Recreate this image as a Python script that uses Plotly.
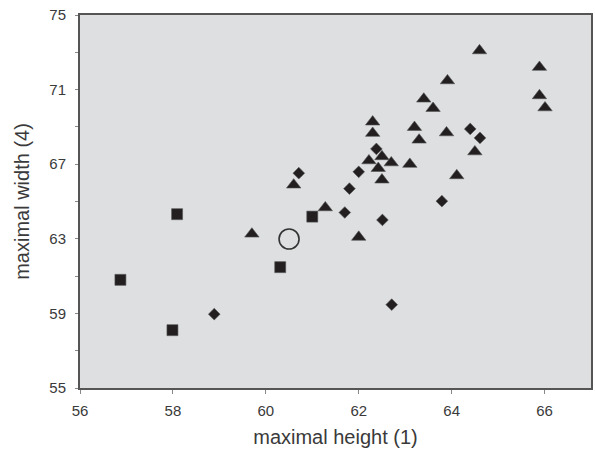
import plotly.graph_objects as go

# Squares
sq_x = [56.87, 57.99, 58.09, 60.31, 61.00]
sq_y = [60.80, 58.10, 64.32, 61.48, 64.19]

# Triangles
tri_x = [64.60, 65.89, 63.91, 65.89, 63.40, 66.01, 63.60, 62.30, 63.20, 62.30,
         63.89, 63.30, 64.50, 62.50, 62.22, 62.70, 63.10, 62.42, 62.50, 64.11,
         60.60, 61.28, 62.00, 59.70]
tri_y = [73.09, 72.20, 71.48, 70.68, 70.50, 70.03, 70.00, 69.27, 68.98, 68.66,
         68.69, 68.30, 67.67, 67.41, 67.19, 67.08, 67.00, 66.78, 66.16, 66.39,
         65.89, 64.67, 63.09, 63.26]

# Diamonds
dia_x = [64.40, 64.61, 62.38, 62.00, 60.71, 61.80, 63.79, 61.70, 62.51, 62.71, 58.89]
dia_y = [68.89, 68.41, 67.82, 66.59, 66.52, 65.69, 65.02, 64.41, 64.01, 59.47, 58.96]

# Open circle
circ_x = [60.50]
circ_y = [62.99]

x_ticks = [56, 58, 60, 62, 64, 66]
y_ticks = [55, 59, 63, 67, 71, 75]

mark_col = "#231f20"

fig = go.Figure()
fig.add_trace(go.Scatter(x=sq_x, y=sq_y, mode="markers",
                         marker=dict(symbol="square", size=11, color=mark_col,
                                     line=dict(width=0.6, color="#555"))))
fig.add_trace(go.Scatter(x=tri_x, y=tri_y, mode="markers",
                         marker=dict(symbol="triangle-up", size=12.5, color=mark_col,
                                     line=dict(width=0.6, color="#555"))))
fig.add_trace(go.Scatter(x=dia_x, y=dia_y, mode="markers",
                         marker=dict(symbol="diamond", size=9, color=mark_col,
                                     line=dict(width=0.6, color="#555"))))
fig.add_trace(go.Scatter(x=circ_x, y=circ_y, mode="markers",
                         marker=dict(symbol="circle-open", size=20, color="#333",
                                     line=dict(width=1.6, color="#333"))))

font_family = "Liberation Sans, Arial, sans-serif"

fig.update_layout(
    width=595, height=451,
    margin=dict(l=80, r=4, t=15, b=63),
    paper_bgcolor="white",
    plot_bgcolor="#dddfe1",
    showlegend=False,
    hovermode=False,
    font=dict(family=font_family, color="#333333", size=14),
)
fig.update_xaxes(
    range=[56, 67], tickvals=x_ticks, ticktext=[str(v) for v in x_ticks],
    showgrid=False, zeroline=False, automargin=False,
    showline=True, linecolor="#555555", linewidth=2, mirror=True,
    ticks="outside", ticklen=4, tickcolor="#888888", tickwidth=1,
    ticklabelstandoff=4, ticklabeloverflow="allow",
    tickfont=dict(size=15, color="#3a3a3a"),
    title=dict(text="maximal height (1)", font=dict(size=20, color="#3a3a3a"), standoff=12),
)
fig.update_yaxes(
    range=[55, 75], tickvals=y_ticks, ticktext=[str(v) for v in y_ticks],
    showgrid=False, zeroline=False, automargin=False,
    showline=True, linecolor="#555555", linewidth=2, mirror=True,
    ticks="outside", ticklen=3, tickcolor="#888888", tickwidth=1,
    ticklabelstandoff=6, ticklabeloverflow="allow",
    minor=dict(tickvals=[57, 61, 65, 69, 73], ticks="outside", ticklen=3,
               tickcolor="#888888", showgrid=False),
    tickfont=dict(size=15, color="#3a3a3a"),
    title=dict(text="maximal width (4)", font=dict(size=20, color="#3a3a3a"), standoff=14),
)

fig.write_html("out.html",
               config={"displayModeBar": False},
               post_script="document.body.style.margin='0';document.body.style.padding='0';")
